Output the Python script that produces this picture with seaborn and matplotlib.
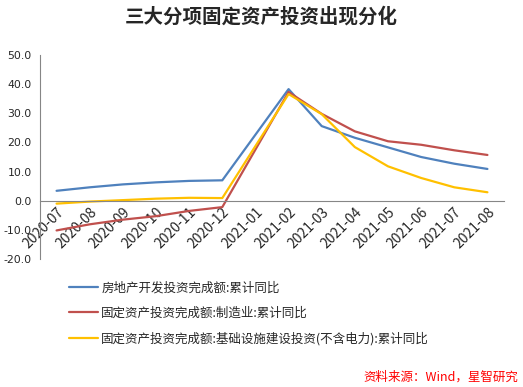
import matplotlib
matplotlib.use("Agg")
import matplotlib.pyplot as plt
import seaborn as sns
import pandas as pd
import numpy as np

months = ["2020-07", "2020-08", "2020-09", "2020-10", "2020-11", "2020-12", "2021-01",
          "2021-02", "2021-03", "2021-04", "2021-05", "2021-06", "2021-07", "2021-08"]
real_estate = [3.4, 4.6, 5.6, 6.3, 6.8, 7.0, None, 38.3, 25.6, 21.6, 18.3, 15.0, 12.7, 10.9]
manufacturing = [-10.2, -8.1, -6.5, -5.3, -3.5, -2.2, None, 37.3, 29.8, 23.8, 20.4, 19.2, 17.3, 15.7]
infrastructure = [-1.0, -0.3, 0.2, 0.7, 1.0, 0.9, None, 36.6, 29.7, 18.4, 11.8, 7.8, 4.6, 2.9]
series_names = ["房地产开发投资完成额:累计同比",
                "固定资产投资完成额:制造业:累计同比",
                "固定资产投资完成额:基础设施建设投资(不含电力):累计同比"]
colors = ["#4F81BD", "#C0504D", "#FFC000"]

rows = []
for name, vals in zip(series_names, [real_estate, manufacturing, infrastructure]):
    for i, (m, v) in enumerate(zip(months, vals)):
        if v is not None:
            rows.append({"pos": i, "month": m, "value": v, "series": name})
df = pd.DataFrame(rows)

sns.set_style("white")
plt.rcParams['font.family'] = ['Noto Sans CJK SC', 'DejaVu Sans']

fig = plt.figure(figsize=(5.23, 3.87), dpi=100)
ax = fig.add_axes([40/523, 1-259/387, (504-40)/523, (259-55)/387])

sns.lineplot(data=df, x="pos", y="value", hue="series", hue_order=series_names,
             palette=colors, linewidth=1.6, ax=ax, legend=False, sort=True)

ax.set_xlim(-0.5, len(months)-0.5)
ax.set_ylim(-20, 50)
ax.set_yticks(np.arange(-20, 51, 10))
ax.set_yticklabels([f"{v:.1f}" for v in np.arange(-20, 51, 10)], family="DejaVu Sans", fontsize=7.8)
ax.set_xticks(range(len(months)))
ax.set_xticklabels(months, family="DejaVu Sans", fontsize=8.5)
ax.set_xticks(np.arange(-0.5, len(months), 1), minor=True)
ax.tick_params(axis="x", which="major", length=0, pad=3)
ax.tick_params(axis="x", which="minor", length=4, color="#868686", direction="out")
ax.tick_params(axis="y", length=4, color="#868686", direction="out", pad=2)
ax.set_xlabel("")
ax.set_ylabel("")
for s in ["top", "right"]:
    ax.spines[s].set_visible(False)
ax.spines["bottom"].set_position(("data", 0))
ax.spines["bottom"].set_color("#868686")
ax.spines["left"].set_color("#868686")
ax.spines["bottom"].set_linewidth(0.8)
ax.spines["left"].set_linewidth(0.8)
plt.setp(ax.get_xticklabels(), rotation=45, ha="right", rotation_mode="anchor")

# legend
handles = [plt.Line2D([], [], color=c, linewidth=1.6) for c in colors]
fig.legend(handles, series_names, loc="upper left", bbox_to_anchor=(58/523, 1-270/387),
           frameon=False, fontsize=9, handlelength=2.3, handletextpad=0.25,
           labelspacing=1.0)

fig.text(0.5, 1-17/387, "三大分项固定资产投资出现分化", ha="center", va="center",
         fontsize=14, fontweight="bold")
fig.text(518/523, 1-377/387, "资料来源：Wind，星智研究", ha="right", va="center",
         fontsize=9, color="#FF0000", style="italic")

fig.savefig("out.png", dpi=100)
